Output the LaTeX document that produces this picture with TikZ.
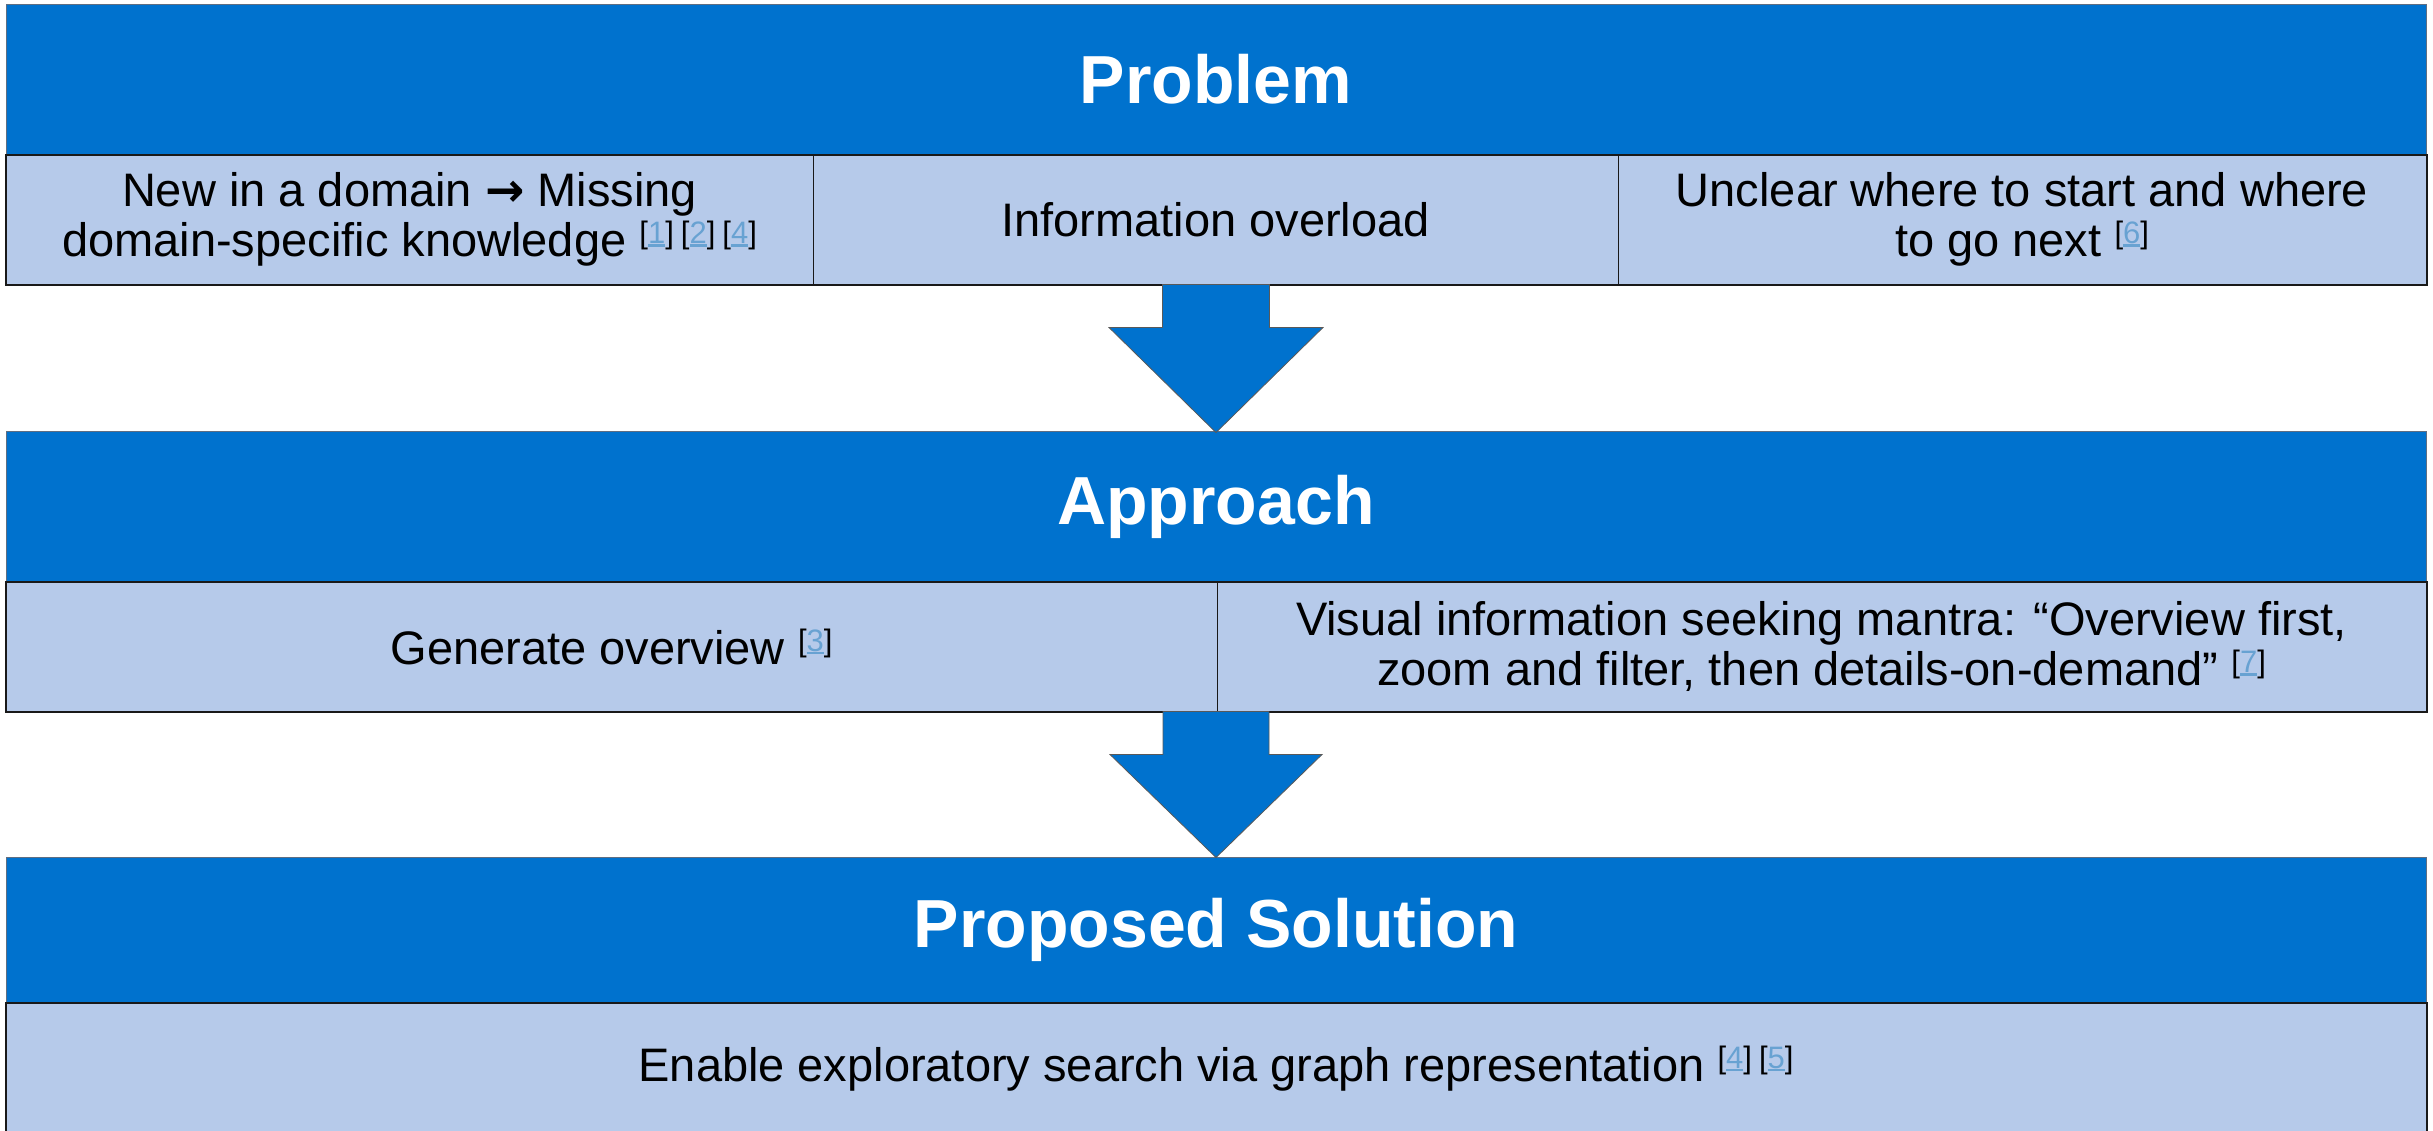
\documentclass[tikz,border=0pt]{standalone}
\usepackage{fontspec}
\setmainfont{Liberation Sans}
\newfontfamily\arrowfont{DejaVu Sans}
\usetikzlibrary{calc}
\definecolor{hdrblue}{RGB}{0,114,206}
\definecolor{cellblue}{RGB}{182,202,234}
\definecolor{citecol}{RGB}{104,162,210}
\definecolor{hdredge}{RGB}{95,110,130}
\definecolor{celledge}{RGB}{25,25,25}
\newcommand\ulref[1]{\setbox0\hbox{#1}\rlap{\color{citecol}\rule[-3pt]{\wd0}{2.2pt}}\box0}
\newcommand\refc[1]{\raisebox{13pt}{\fontsize{31}{31}\selectfont[\textcolor{citecol}{\ulref{#1}}]}}
\newcommand\refsp{\hspace{7pt}}
\newcommand\rarr{{\arrowfont\bfseries →}}
\begin{document}
\begin{tikzpicture}[x=1pt,y=-1pt,
  hdr/.style={draw=hdredge, line width=1pt, fill=hdrblue, text=white,
    font=\fontsize{68}{68}\selectfont\bfseries, inner sep=0pt, anchor=center},
  cell/.style={draw=celledge, line width=1pt, fill=cellblue, text=black,
    font=\fontsize{47}{50}\selectfont, align=center, inner sep=0pt, anchor=center},
  rowedge/.style={draw=celledge, line width=2pt},
  blockarrow/.style={fill=hdrblue, draw=black!65, line width=0.8pt, line join=miter}]
\useasboundingbox (0,0) rectangle (2433,1130);
\fill[white] (0,0) rectangle (2433,1130);
\clip (0,0) rectangle (2433,1130);
% Problem
\node[hdr, minimum width=2420pt, minimum height=151pt] (hdr1) at (1216,79.5) {Problem};
\node[cell, minimum width=807pt, minimum height=129pt] (p1) at (409.5,219.5)
  {New in a domain \rarr{} Missing\\domain-specific knowledge \refc{1}\refsp\refc{2}\refsp\refc{4}};
\node[cell, minimum width=805pt, minimum height=129pt] (p2) at (1215.5,219.5) {Information overload};
\node[cell, minimum width=808pt, minimum height=129pt] (p3) at (2022,219.5)
  {Unclear where to start and where\\to go next \refc{6}};
\draw[rowedge] (p1.north west) rectangle (p3.south east);
% Approach
\node[hdr, minimum width=2420pt, minimum height=151pt] (hdr2) at (1216,506.5) {Approach};
\node[cell, minimum width=1211pt, minimum height=129pt] (a1) at (611.5,646.5) {Generate overview \refc{3}};
\node[cell, minimum width=1209pt, minimum height=129pt] (a2) at (1821.5,646.5)
  {Visual information seeking mantra: “Overview first,\\zoom and filter, then details-on-demand” \refc{7}};
\draw[rowedge] (a1.north west) rectangle (a2.south east);
% Proposed Solution
\node[hdr, minimum width=2420pt, minimum height=146pt] (hdr3) at (1216,930) {Proposed Solution};
\node[cell, minimum width=2420pt, minimum height=131pt] (s1) at (1216,1068.5)
  {Enable exploratory search via graph representation \refc{4}\refsp\refc{5}};
\draw[rowedge] (s1.north west) rectangle (s1.south east);
% block arrows
\coordinate (ar1top) at (hdr2.north |- p2.south);
\coordinate (ar2top) at (hdr3.north |- a1.south);
\draw[blockarrow] ($(ar1top)+(-53.5,0)$) -- ($(ar1top)+(53.5,0)$) -- ($(ar1top)+(53.5,43)$)
  -- ($(ar1top)+(107,43)$) -- ($(hdr2.north)+(0,2)$) -- ($(ar1top)+(-107,43)$)
  -- ($(ar1top)+(-53.5,43)$) -- cycle;
\draw[blockarrow] ($(ar2top)+(-53,0)$) -- ($(ar2top)+(53,0)$) -- ($(ar2top)+(53,43)$)
  -- ($(ar2top)+(106,43)$) -- ($(hdr3.north)+(0,1)$) -- ($(ar2top)+(-106,43)$)
  -- ($(ar2top)+(-53,43)$) -- cycle;
\end{tikzpicture}
\end{document}
